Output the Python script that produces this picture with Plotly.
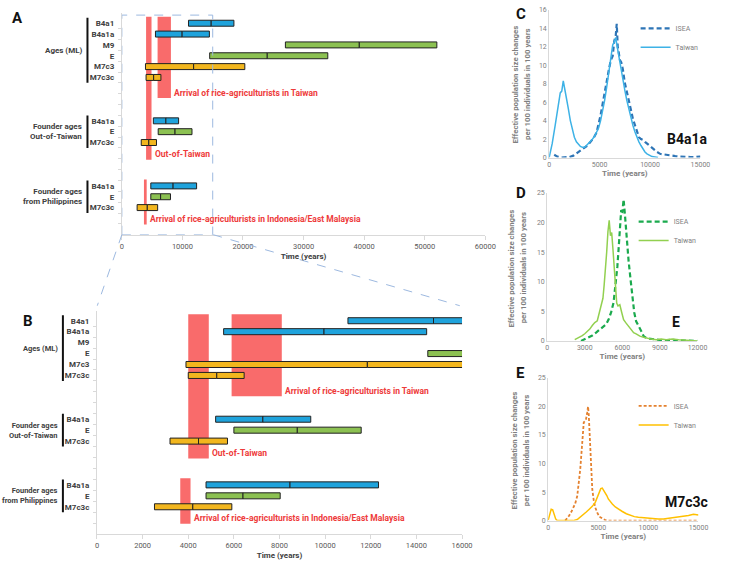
import plotly.graph_objects as go

W, H = 736, 568
FONT = "Roboto"

# ---------------- Panels A/B data ----------------
group_names = ["Ages (ML)", "Founder ages<br>Out-of-Taiwan", "Founder ages<br>from Philippines"]
group_labels = [
    ["B4a1", "B4a1a", "M9", "E", "M7c3", "M7c3c"],
    ["B4a1a", "E", "M7c3c"],
    ["B4a1a", "E", "M7c3c"],
]
group_low = [
    [11000, 5550, 27000, 14500, 3900, 4000],
    [5200, 6000, 3200],
    [4780, 4780, 2520],
]
group_mid = [
    [14750, 9950, 39200, 24000, 11850, 5250],
    [7270, 8780, 4450],
    [8460, 6400, 4200],
]
group_high = [
    [18500, 14450, 52000, 34000, 20300, 6450],
    [9370, 11580, 5720],
    [12340, 8030, 5910],
]
hap_color = {"B4a1": "#1FA3DC", "B4a1a": "#1FA3DC", "M9": "#8CC152", "E": "#8CC152",
             "M7c3": "#F2B61E", "M7c3c": "#F2B61E"}

event_labels = ["Out-of-Taiwan", "Arrival of rice-agriculturists in Taiwan",
                "Arrival of rice-agriculturists in Indonesia/East Malaysia"]
event_start = [4000, 5900, 3650]
event_end = [4900, 8100, 4100]
event_row_bottom = [6.9, 12.6, 0.95]
event_row_top = [20.1, 20.1, 5.1]

# ---------------- Panels C/D/E data ----------------
c_isea_t = [500, 800, 1200, 1600, 2000, 2400, 2800, 3200, 3500, 3800, 4100, 4400, 4700, 4900, 5100, 5300,
            5500, 5700, 5900, 6100, 6300, 6450, 6600, 6700, 6800, 6900, 7000, 7150, 7300, 7500, 7700, 7900,
            8100, 8300, 8500, 8700, 8900, 9100, 9300, 9500, 9800, 10100, 10400, 10700, 11000, 11500, 12000,
            12500, 13000, 13500, 14000, 14500, 15000]
c_isea_v = [0.3, 0.1, 0, 0, 0.05, 0.2, 0.5, 0.8, 1.1, 1.3, 1.7, 2.1, 2.7, 3.6, 4.6, 5.8,
            7.0, 8.6, 9.4, 10.5, 11.0, 12.6, 13.2, 14.5, 12.0, 11.4, 10.6, 10.3, 9.6, 8.1, 7.0, 6.1,
            5.2, 4.2, 3.5, 2.7, 2.2, 2.0, 1.9, 1.7, 1.4, 1.2, 0.9, 0.6, 0.4, 0.3, 0.2,
            0.15, 0.1, 0.05, 0.05, 0.05, 0.1]
c_tw_t = [0, 300, 600, 900, 1100, 1250, 1400, 1550, 1700, 1900, 2100, 2300, 2500, 2700, 2900, 3100, 3300,
          3500, 3700, 3900, 4100, 4300, 4500, 4700, 4900, 5100, 5300, 5500, 5700, 5900, 6100, 6300, 6450,
          6600, 6750, 6900, 7100, 7300, 7500, 7700, 7900, 8100, 8300, 8500, 8700, 8900, 9100, 9300, 9500,
          9700, 9900, 10200, 10500, 10800]
c_tw_v = [0, 1.5, 3.5, 5.8, 7.0, 7.2, 8.3, 7.4, 6.6, 5.3, 4.0, 3.0, 2.2, 1.7, 1.4, 1.2, 1.1,
          1.1, 1.3, 1.5, 1.7, 2.0, 2.3, 2.7, 3.2, 4.0, 5.0, 6.2, 7.6, 9.0, 10.6, 12.2, 12.5,
          13.0, 12.0, 11.0, 9.8, 8.5, 7.3, 6.2, 5.2, 4.3, 3.5, 2.8, 2.2, 1.7, 1.3, 0.9, 0.6,
          0.4, 0.25, 0.1, 0.05, 0]

d_isea_t = [2700, 3000, 3300, 3600, 3900, 4200, 4500, 4700, 4900, 5100, 5300, 5450, 5600, 5700, 5800, 5900,
            6000, 6050, 6100, 6200, 6300, 6400, 6500, 6650, 6800, 6950, 7100, 7250, 7400, 7550, 7700, 7900,
            8100, 8400, 8700, 9000, 9500, 10000, 10500, 11000, 11500, 12000]
d_isea_v = [0, 0.3, 0.6, 0.9, 1.4, 1.9, 2.4, 2.8, 3.6, 4.8, 6.5, 9.0, 12.5, 15.5, 18.5, 21.9,
            21.8, 22.5, 23.9, 21.5, 18.6, 16.0, 13.5, 10.5, 7.5, 4.8, 3.3, 2.7, 2.3, 1.5, 0.8, 0.5,
            0.4, 0.3, 0.2, 0.15, 0.1, 0.2, 0.1, 0.05, 0.05, 0]
d_tw_t = [2200, 2400, 2600, 2800, 3000, 3200, 3400, 3600, 3800, 4000, 4150, 4300, 4450, 4550, 4650, 4750,
          4850, 4950, 5050, 5150, 5250, 5350, 5450, 5550, 5650, 5800, 5950, 6100, 6300, 6500, 6700, 6900,
          7100, 7400, 7700, 8000, 8300, 8700, 9100, 9500, 10000, 10500, 11000, 11500, 12000]
d_tw_v = [0.2, 0.4, 0.6, 0.9, 1.2, 1.6, 2.0, 2.6, 3.1, 3.4, 4.6, 5.8, 7.2, 9.5, 11.8, 15.0,
          18.5, 20.4, 17.8, 18.3, 15.5, 11.9, 8.8, 6.4, 5.9, 6.1, 4.8, 3.6, 3.0, 2.5, 2.0, 1.4,
          1.2, 0.8, 0.6, 0.4, 0.3, 0.2, 0.3, 0.2, 0.3, 0.2, 0.1, 0.1, 0]

e_isea_t = [1700, 1900, 2100, 2300, 2500, 2700, 2900, 3050, 3200, 3350, 3450, 3550, 3650, 3780, 3900, 3980,
            4050, 4120, 4200, 4300, 4400, 4550, 4700, 4900, 5100, 5400, 5700, 6000, 7000, 8000, 9000,
            10000, 11000, 12000, 13000, 14000, 15000]
e_isea_v = [0, 0.4, 0.9, 1.5, 2.2, 3.0, 4.3, 6.3, 9.0, 12.5, 15.0, 17.2, 17.4, 17.8, 19.0, 20.0,
            18.5, 15.5, 12.0, 8.0, 5.5, 3.5, 2.3, 1.4, 0.7, 0.4, 0.1, 0, 0, 0, 0,
            0, 0, 0, 0, 0, 0]
e_tw_t = [0, 150, 300, 450, 600, 750, 900, 1500, 2000, 2500, 2900, 3200, 3500, 3800, 4100, 4400, 4700,
          4900, 5100, 5250, 5400, 5550, 5700, 5850, 6000, 6200, 6400, 6700, 7000, 7400, 7800, 8200, 8600,
          9000, 9500, 10000, 10500, 11000, 11500, 12000, 12500, 13000, 13500, 14000, 14500, 15000]
e_tw_v = [0.1, 1.2, 2.0, 1.9, 1.1, 0.3, 0, 0, 0, 0, 0.2, 0.6, 1.0, 1.5, 2.0, 2.5, 3.2,
          4.0, 4.8, 5.6, 5.7, 5.3, 5.0, 4.4, 3.8, 3.3, 2.9, 2.4, 2.0, 1.6, 1.2, 0.9, 0.7,
          0.6, 0.5, 0.4, 0.4, 0.3, 0.3, 0.4, 0.5, 0.6, 0.8, 0.9, 1.1, 1.0]

c_ticks = [0, 5000, 10000, 15000]
d_ticks = [0, 3000, 6000, 9000, 12000]
e_ticks = [0, 5000, 10000, 15000]

ytitle_lines = ["Effective population size changes", "per 100 individuals in 100 years"]

# ---------------- helpers ----------------
def px(x):
    return x / W

def py(y):
    return 1 - y / H

N_ROWS = 20
GAP = 3
Y_TOP = 20.4

# row positions computed from group structure
row_pos = []
r = N_ROWS
for labels in group_labels:
    row_pos.append([r - 0.5 - i for i in range(len(labels))])
    r -= len(labels) + GAP

fig = go.Figure()

GRAY_AX = "#D9D9D9"
DARK = "#404040"

panels_ab = [("x", "y"), ("x2", "y2")]
for xa, ya in panels_ab:
    for gi, labels in enumerate(group_labels):
        lows, mids, highs = group_low[gi], group_mid[gi], group_high[gi]
        cols = [hap_color[l] for l in labels]
        fig.add_trace(go.Bar(
            y=row_pos[gi], x=[m - l for l, m in zip(lows, mids)], base=lows, orientation="h",
            marker=dict(color=cols, line=dict(color="#222222", width=1)), width=0.55,
            xaxis=xa, yaxis=ya, showlegend=False, hoverinfo="skip"))
        fig.add_trace(go.Bar(
            y=row_pos[gi], x=[h - m for m, h in zip(mids, highs)], base=mids, orientation="h",
            marker=dict(color=cols, line=dict(color="#222222", width=1)), width=0.55,
            xaxis=xa, yaxis=ya, showlegend=False, hoverinfo="skip"))

shapes = []
annotations = []
for xa, ya in panels_ab:
    for s, e, b, t, lab in zip(event_start, event_end, event_row_bottom, event_row_top, event_labels):
        shapes.append(dict(type="rect", xref=xa, yref=ya, x0=s, x1=e, y0=b, y1=t,
                           fillcolor="#F96B6B", line=dict(width=0), layer="below"))
        annotations.append(dict(xref=xa, yref=ya, x=e, y=b + 0.5, text="<b>%s</b>" % lab,
                                xanchor="left", yanchor="middle", xshift=1, showarrow=False,
                                font=dict(family=FONT, size=8.5, color="#EE3A3A")))

# y tick values/labels
all_pos = [p for g in row_pos for p in g]
all_lab = [l for g in group_labels for l in g]

# group labels + black brackets
for ya, lab_x, bar_x, fs in [("y", 83, 87, 8), ("y2", 59, 62, 7.5)]:
    for gi, name in enumerate(group_names):
        top = row_pos[gi][0] + 0.5
        bot = row_pos[gi][-1] - 0.5
        shapes.append(dict(type="line", xref="paper", yref=ya, x0=px(bar_x), x1=px(bar_x),
                           y0=bot, y1=top, line=dict(color="#111111", width=2)))
        annotations.append(dict(xref="paper", yref=ya, x=px(lab_x), y=(top + bot) / 2,
                                text="<b>%s</b>" % name, xanchor="right", yanchor="middle",
                                align="right", showarrow=False,
                                font=dict(family=FONT, size=fs, color=DARK)))

# dashed zoom box in A and connectors
shapes.append(dict(type="rect", xref="x", yref="y", x0=0, x1=15000, y0=0, y1=20.25,
                   line=dict(color="#9DB9E0", width=1, dash="dash"), layer="above"))
shapes.append(dict(type="line", xref="paper", yref="paper", x0=px(122), y0=py(234), x1=px(97), y1=py(306),
                   line=dict(color="#9DB9E0", width=1, dash="dash")))
shapes.append(dict(type="line", xref="paper", yref="paper", x0=px(215), y0=py(234), x1=px(466), y1=py(306),
                   line=dict(color="#9DB9E0", width=1, dash="dash")))

# ---------------- C/D/E lines ----------------
line_panels = [
    ("x3", "y3", "legend", c_isea_t, c_isea_v, c_tw_t, c_tw_v, "#2E75B6", "#3DB2E6", "5px,3px", 2.2),
    ("x4", "y4", "legend2", d_isea_t, d_isea_v, d_tw_t, d_tw_v, "#1BAA4E", "#92D050", "5px,3px", 2.2),
    ("x5", "y5", "legend3", e_isea_t, e_isea_v, e_tw_t, e_tw_v, "#E4812F", "#FFC000", "3px,2px", 1.8),
]
for xa, ya, lg, it, iv, tt, tv, ci, ct, dsh, wd in line_panels:
    fig.add_trace(go.Scatter(x=it, y=iv, mode="lines", name="ISEA", xaxis=xa, yaxis=ya, legend=lg,
                             line=dict(color=ci, width=wd, dash=dsh)))
    fig.add_trace(go.Scatter(x=tt, y=tv, mode="lines", name="Taiwan", xaxis=xa, yaxis=ya, legend=lg,
                             line=dict(color=ct, width=1.5)))

for x1, x2, cy in [(523, 535.5, 82), (518.5, 530.5, 268), (522, 534, 453)]:
    for lx, txt in zip([x1, x2], ytitle_lines):
        annotations.append(dict(xref="paper", yref="paper", x=px(lx), y=py(cy), text="<b>%s</b>" % txt,
                                textangle=-90, showarrow=False, xanchor="center", yanchor="middle",
                                font=dict(family=FONT, size=7.8, color="#7F7F7F")))

for txt, cx, cy, sz in [("B4a1a", 697, 137, 14), ("E", 686, 323, 14), ("M7c3c", 697, 505, 14),
                        ("A", 16, 14, 15), ("B", 26, 322, 15), ("C", 528, 10, 15),
                        ("D", 528, 192, 15), ("E", 528, 374, 15)]:
    annotations.append(dict(xref="paper", yref="paper", x=px(cx), y=py(cy), text="<b>%s</b>" % txt,
                            showarrow=False, xanchor="center", yanchor="middle",
                            font=dict(family=FONT, size=sz, color="#111111")))

# ---------------- axes ----------------
def ab_yaxis(y0, y1):
    return dict(domain=[py(y0), py(y1)], range=[0, Y_TOP], tickmode="array", tickvals=all_pos,
                ticktext=all_lab, ticks="outside", ticklen=5, tickcolor="rgba(0,0,0,0)",
                tickfont=dict(family=FONT, size=8, color=DARK, weight="bold"),
                showline=True, linecolor=GRAY_AX, showgrid=False, zeroline=False,
                minor=dict(tickmode="array", tickvals=list(range(1, N_ROWS)), ticks="outside",
                           ticklen=3, tickcolor=GRAY_AX, showgrid=False))

def ab_xaxis(x0, x1, rng, dt):
    return dict(domain=[px(x0), px(x1)], range=rng, dtick=dt, tick0=0, tickformat="d",
                ticks="outside", ticklen=4,
                tickcolor=GRAY_AX, showline=True, linecolor=GRAY_AX, showgrid=False, zeroline=False,
                tickfont=dict(family=FONT, size=7.5, color="#595959"),
                title=dict(text="<b>Time (years)</b>", standoff=3,
                           font=dict(family=FONT, size=8, color=DARK)))

def l_xaxis(x0, x1, rng, tv, anchor):
    return dict(domain=[px(x0), px(x1)], range=rng, tickmode="array", tickvals=tv, tickformat="d",
                ticks="", showline=True, linecolor=GRAY_AX, showgrid=False, zeroline=False, anchor=anchor,
                tickfont=dict(family=FONT, size=7, color="#808080"),
                title=dict(text="<b>Time (years)</b>", standoff=2,
                           font=dict(family=FONT, size=8, color="#7F7F7F")))

def l_yaxis(y0, y1, rng, dt, anchor):
    return dict(domain=[py(y0), py(y1)], range=rng, dtick=dt, ticks="", showline=True,
                linecolor=GRAY_AX, showgrid=False, zeroline=False, anchor=anchor,
                tickfont=dict(family=FONT, size=7, color="#808080"))

legend_common = dict(bgcolor="rgba(0,0,0,0)", font=dict(family=FONT, size=7, color="#7F7F7F"),
                     xanchor="left", yanchor="top", itemwidth=30, tracegroupgap=0)

fig.update_layout(
    width=W, height=H, autosize=False, margin=dict(l=0, r=0, t=0, b=0),
    paper_bgcolor="white", plot_bgcolor="rgba(0,0,0,0)", barmode="overlay",
    font=dict(family=FONT),
    xaxis=ab_xaxis(122, 492, [0, 60000], 10000) | dict(anchor="y"),
    yaxis=ab_yaxis(234, 234 - 11 * Y_TOP) | dict(anchor="x"),
    xaxis2=ab_xaxis(96.7, 468.3, [0, 16000], 2000) | dict(anchor="y2"),
    yaxis2=ab_yaxis(537.7, 537.7 - 11.1 * Y_TOP) | dict(anchor="x2"),
    xaxis3=l_xaxis(557, 711, [0, 15000], c_ticks, "y3"),
    yaxis3=l_yaxis(155.7, 6, [0, 16], 2, "x3"),
    xaxis4=l_xaxis(555, 708, [0, 12000], d_ticks, "y4"),
    yaxis4=l_yaxis(341.7, 191.7, [0, 25], 5, "x4"),
    xaxis5=l_xaxis(556, 709, [0, 15000], e_ticks, "y5"),
    yaxis5=l_yaxis(524, 379.3, [0, 25], 5, "x5"),
    legend=legend_common | dict(x=px(645), y=py(10)),
    legend2=legend_common | dict(x=px(643), y=py(206)),
    legend3=legend_common | dict(x=px(643), y=py(393)),
    shapes=shapes, annotations=annotations,
)

fig.write_html("out.html")
